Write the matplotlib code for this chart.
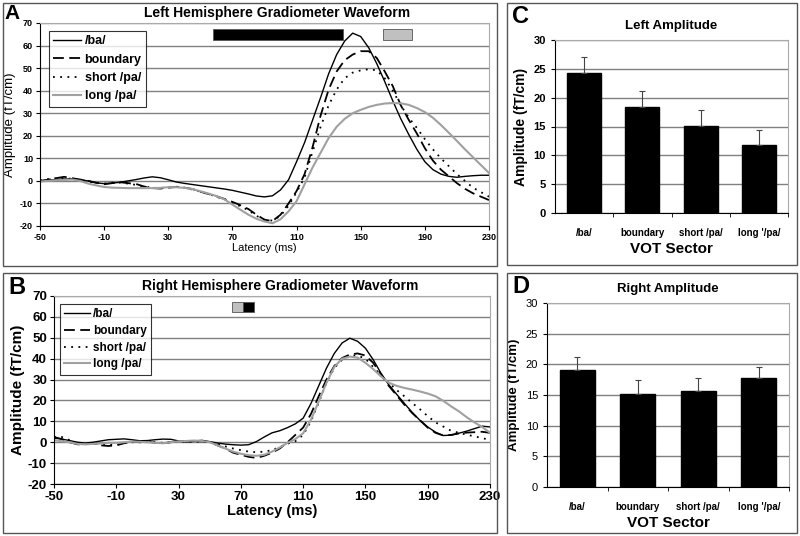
import matplotlib
matplotlib.use('Agg')
import matplotlib.pyplot as plt
from matplotlib.patches import Rectangle

plt.rcParams['font.family'] = ['Liberation Sans', 'DejaVu Sans']
plt.rcParams['axes.unicode_minus'] = False

# latency samples (ms)
latency = list(range(-50, 235, 5))

# Left hemisphere waveforms (fT/cm)
left_ba = [0, 0.3, 0.6, 0.8, 0.9, 0.5, 0, -0.9, -1.2, -1,
           -0.6, 0, 0.6, 1.3, 1.8, 1.4, 0.5, -0.5, -1.1, -1.6,
           -2.1, -2.6, -3.1, -3.6, -4.2, -5, -5.8, -6.7, -7.1, -6.6,
           -4, 0.5, 8.5, 17, 27, 37, 47.5, 56, 62, 65.5,
           64, 59, 52, 44, 35.5, 27.5, 20.5, 14, 8.5, 5,
           3, 2, 1.6, 2, 2.3, 2.5, 2.5]
left_boundary = [0, 0.5, 1.2, 1.8, 1.2, 0.6, 0, -0.8, -1.5, -1,
                 -0.6, -1, -1.4, -2.5, -3.2, -3.4, -3, -2.7, -3, -3.6,
                 -4.8, -5.8, -6.8, -8, -9.3, -10.8, -12.5, -15, -17.2, -17.8,
                 -15, -10, -4.5, 3, 15, 29, 40.5, 48.5, 53.5, 56,
                 57.5, 57.5, 54.5, 48.5, 42, 33.5, 27, 21, 14.5, 9,
                 5, 2, -1, -3.5, -5.5, -7, -8.5]
left_short = [0.3, 0.8, 1.2, 1.0, 1.0, 0.5, -0.2, -0.8, -1.2, -0.8,
              -0.8, -1.2, -1.8, -2.5, -3, -3.2, -2.8, -2.6, -3, -3.8,
              -4.8, -5.8, -7, -8.2, -9.6, -11.3, -13, -15.5, -17.3, -17.6,
              -15.5, -11, -5, 1.5, 13, 24, 33.5, 40.5, 45.5, 48,
              49, 49.5, 49, 45.5, 40, 33.5, 28, 23.5, 18.5, 14,
              10, 6.5, 3, 0, -3, -5, -7]
left_long = [-0.3, 0, 0.3, 0.4, 0.6, 0, -1.2, -2, -2.7, -3,
             -3.1, -3.2, -3.2, -3.2, -3.2, -3.1, -2.8, -2.8, -3.1, -3.6,
             -4.6, -5.6, -6.7, -8.2, -10.5, -12.8, -15, -16.8, -18, -18.8,
             -17, -13.5, -9, -1.5, 6, 12.5, 19, 24, 27.5, 30,
             31.5, 32.8, 33.7, 34.3, 34.5, 34.4, 33.7, 32.3, 30.5, 28,
             24.8, 21.3, 17.7, 14, 10.5, 7, 3.5]

# Right hemisphere waveforms (fT/cm)
right_ba = [2, 1.5, 0.8, 0, -0.4, 0, 0.6, 1.2, 1.4, 1.6,
            1.2, 0.7, 0.8, 1.2, 1.5, 1.4, 0.6, 0.4, 0.6, 0.9,
            0.3, -0.4, -0.9, -1.2, -1.4, -1.2, 0.3, 2.5, 4.5, 5.5,
            7, 8.8, 11.5, 18.5, 27, 35.5, 42.5, 47.5, 49.8, 48.3,
            45, 39.5, 33, 27.5, 23, 18.6, 14.3, 10.5, 7.3, 4.8,
            3.2, 3.4, 4.3, 5.3, 6.5, 7.7, 7.3]
right_boundary = [2.5, 1.5, 0, -1, -1, -0.5, -1.5, -1.8, -1.5, -0.5,
                  0.5, 0, 0.3, -0.3, -0.5, 0, 0.5, 0.3, 0.4, 0.5,
                  0, -1.5, -3, -5, -6, -7, -7.5, -6.5, -5, -3,
                  0, 3.5, 7, 13.5, 22, 30, 36.5, 40.3, 42, 42.5,
                  41.5, 38, 32.5, 27, 22.5, 18, 14, 10.5, 7, 4.5,
                  3.2, 3.5, 4.2, 4.6, 4.8, 5, 4.5]
right_short = [2.5, 2.5, 1, -0.5, -1, -0.5, -1, -1.2, -1.2, -0.5,
               0, 0, 0.2, 0, -0.3, 0, 0.4, 0.3, 0.3, 0.3,
               0, -1, -2, -3, -3.8, -4.5, -4.8, -4.5, -3.8, -2.3,
               -0.7, 0.5, 3.5, 10, 19, 28.5, 35.5, 39.5, 41.5, 41.5,
               40, 36, 32, 28.5, 25, 22, 18.8, 15.8, 12.5, 9.5,
               7.5, 5.5, 4.5, 3.6, 2.8, 2, 1]
right_long = [1, 0.5, 0, -0.8, -1, -0.8, -0.6, -0.3, -0.3, 0,
              0.3, 0.2, 0, -0.3, -0.5, 0, 0.4, 0.6, 0.8, 0.6,
              0, -1.5, -3, -4.5, -5.5, -6.2, -6.5, -6, -4.5, -2.5,
              -0.3, 1.5, 4.3, 10.7, 19.5, 28.5, 36, 40, 41, 40.5,
              38, 35, 31.5, 28.5, 27, 26, 25.2, 24.3, 23.3, 22,
              19.8, 17.2, 14.8, 12, 9.5, 7.3, 4.5]

series_names = ['/ba/', 'boundary', 'short /pa/', 'long /pa/']

# significance windows (start ms, end ms, colour)
left_windows = [(57.7, 138.8, 'black'), (163.6, 181.8, '#c0c0c0')]
right_windows = [(64.4, 71.5, '#c0c0c0'), (71.5, 78.5, 'black')]

# bar charts
sectors = ['/ba/', 'boundary', 'short /pa/', "long '/pa/"]
left_amp = [24.3, 18.3, 15.1, 11.8]
left_err = [2.8, 2.8, 2.7, 2.6]
right_amp = [19.1, 15.2, 15.7, 17.7]
right_err = [2.1, 2.3, 2.0, 1.9]

W, H = 800, 536
fig = plt.figure(figsize=(8, 5.36), dpi=100)


def px(x0, y0, x1, y1):
    return [x0 / W, 1 - y1 / H, (x1 - x0) / W, (y1 - y0) / H]


# panel frames
for (x0, y0, x1, y1) in [(3, 3, 497, 266), (3, 273, 497, 533),
                         (507, 3, 797, 265), (507, 273, 797, 533)]:
    fig.patches.append(Rectangle((x0 / W, 1 - y1 / H), (x1 - x0) / W, (y1 - y0) / H,
                                 transform=fig.transFigure, fill=False,
                                 edgecolor='#555555', lw=1.0))

styles = [dict(color='black', lw=1.0, ls='-'),
          dict(color='black', lw=1.3, ls=(0, (6, 3))),
          dict(color='black', lw=1.3, ls=(0, (1, 3))),
          dict(color='#a0a0a0', lw=1.5, ls='-')]


def wave_panel(rect, data, windows, title, tick_fs, leg_fs, leg_anchor, title_x, spacing):
    ax = fig.add_axes(rect)
    for vals, st, name in zip(data, styles, series_names):
        ax.plot(latency, vals, label=name, **st)
    for (a, b, c) in windows:
        ax.add_patch(Rectangle((a, 62.5), b - a, 4.7, facecolor=c,
                               edgecolor='#555555', lw=0.6, zorder=3))
    ax.set_xlim(-50, 230)
    ax.set_ylim(-20, 70)
    ax.set_xticks(range(-50, 231, 40))
    ax.set_yticks(range(-20, 71, 10))
    ax.yaxis.grid(True, color='#808080', lw=1.0)
    ax.set_axisbelow(True)
    for s in ['top', 'right']:
        ax.spines[s].set_color('#aaaaaa')
    ax.tick_params(direction='out', length=3, labelsize=tick_fs, width=0.8, pad=2)
    for t in ax.get_xticklabels() + ax.get_yticklabels():
        t.set_fontweight('bold')
    ax.text(title_x, 1.015, title, transform=ax.transAxes, ha='center', va='bottom',
            fontsize=10, fontweight='bold')
    leg = ax.legend(loc='upper left', bbox_to_anchor=leg_anchor, fontsize=leg_fs,
                    frameon=True, fancybox=False, edgecolor='black',
                    handlelength=2.2, handletextpad=0.3, borderpad=0.35,
                    labelspacing=spacing, borderaxespad=0)
    leg.get_frame().set_linewidth(0.8)
    for t in leg.get_texts():
        t.set_fontweight('bold')
    return ax


axA = wave_panel(px(40, 23, 489, 226), [left_ba, left_boundary, left_short, left_long],
                 left_windows, 'Left Hemisphere Gradiometer Waveform', 6.5, 9,
                 (0.02, 0.96), 0.528, 0.5)
axA.set_xlabel('Latency (ms)', fontsize=8, labelpad=1)
axA.set_ylabel('Amplitude (fT/cm)', fontsize=9.5, labelpad=3)

axB = wave_panel(px(54, 296, 490, 484), [right_ba, right_boundary, right_short, right_long],
                 right_windows, 'Right Hemisphere Gradiometer Waveform', 9.5, 8.5,
                 (0.013, 0.957), 0.518, 0.4)
axB.set_xlabel('Latency (ms)', fontsize=10.5, fontweight='bold', labelpad=1)
axB.set_ylabel('Amplitude (fT/cm)', fontsize=11, fontweight='bold', labelpad=2)


def bar_panel(rect, vals, errs, title, ytick_w):
    ax = fig.add_axes(rect)
    x = range(len(sectors))
    ax.bar(x, vals, width=0.58, color='black', edgecolor='black', zorder=2)
    ax.errorbar(x, vals, yerr=[[0] * len(errs), errs], fmt='none', ecolor='#444444',
                elinewidth=0.8, capsize=2, capthick=0.8, zorder=3)
    ax.set_xlim(-0.5, 3.5)
    ax.set_ylim(0, 30)
    ax.set_yticks(range(0, 31, 5))
    ax.set_xticks(list(x))
    ax.set_xticklabels(sectors)
    ax.set_xticks([0.5, 1.5, 2.5, 3.5], minor=True)
    ax.tick_params(axis='x', which='major', length=0, pad=11, labelsize=7)
    ax.tick_params(axis='x', which='minor', length=3, direction='out')
    ax.tick_params(axis='y', direction='out', length=3, labelsize=8)
    for t in ax.get_xticklabels():
        t.set_fontweight('bold')
    for t in ax.get_yticklabels():
        t.set_fontweight(ytick_w)
    ax.yaxis.grid(True, color='#808080', lw=1.0)
    ax.set_axisbelow(True)
    for s in ['top', 'right']:
        ax.spines[s].set_color('#aaaaaa')
    ax.set_title(title, fontsize=9.5, fontweight='bold', pad=8)
    ax.set_xlabel('VOT Sector', fontsize=11, fontweight='bold', labelpad=3)
    return ax


axC = bar_panel(px(555, 40, 788, 213), left_amp, left_err, 'Left Amplitude', 'bold')
axC.set_ylabel('Amplitude (fT/cm)', fontsize=10, fontweight='bold', labelpad=4)
axD = bar_panel(px(547, 303, 789, 487), right_amp, right_err, 'Right Amplitude', 'normal')
axD.set_ylabel('Amplitude (fT/cm)', fontsize=9.5, fontweight='bold', labelpad=4)

for letter, (lx, ly, fs) in zip('ABCD', [(4, 4, 15), (8, 276, 17), (512, 5, 17), (512, 275, 17)]):
    fig.text(lx / W, 1 - ly / H, letter, fontsize=fs, fontweight='bold',
             ha='left', va='top')

fig.savefig('out.png', dpi=100)
